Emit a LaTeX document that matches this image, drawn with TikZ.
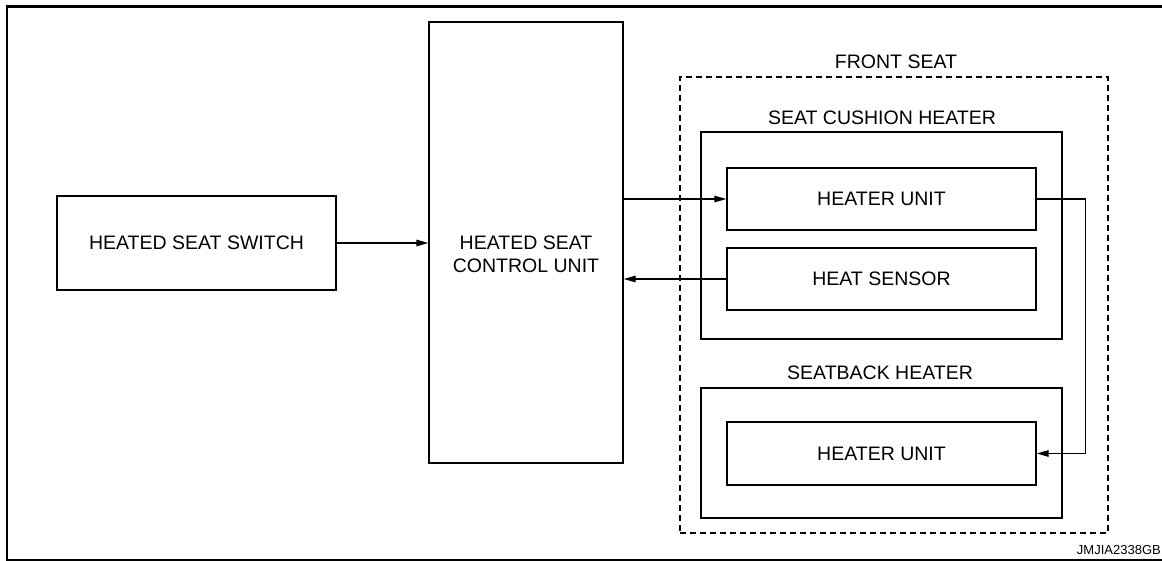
\documentclass[tikz,border=0pt]{standalone}
\usepackage{fontspec}
\setmainfont{Liberation Sans}
\usetikzlibrary{arrows.meta}
\begin{document}
\begin{tikzpicture}[x=1pt,y=-1pt,
  box/.style={draw, line width=1.3pt, inner sep=0pt, align=center, font=\fontsize{19.5}{24}\selectfont},
  lbl/.style={inner sep=0pt, align=center, font=\fontsize{19.5}{23}\selectfont},
  conn/.style={line width=1.3pt},
  arr/.style={conn, -{Triangle[length=12pt,width=6.5pt]}}]
\useasboundingbox (0,0) rectangle (1162,561);
% frame
\draw[line width=3pt] (5.7,6.5) -- (1162,6.5);
\draw[line width=2.6pt] (7,5) -- (7,560);
\draw[line width=1.3pt] (5.7,560) -- (1162,560);
% boxes
\node[box, minimum width=279pt, minimum height=94pt] (sw) at (196.5,243) {HEATED SEAT SWITCH};
\node[box, minimum width=194pt, minimum height=441pt] (cu) at (526,242.5) {};
\node[lbl] (cut) at (526,254) {HEATED SEAT\\CONTROL UNIT};
\node[draw, dashed, dash pattern=on 6pt off 4pt, line width=1.3pt, minimum width=428pt, minimum height=456pt, inner sep=0pt] (fs) at (894,305) {};
\node[box, minimum width=361pt, minimum height=207pt] (sch) at (881.5,235.5) {};
\node[box, minimum width=309pt, minimum height=62pt] (hu1) at (881.5,199) {HEATER UNIT};
\node[box, minimum width=309pt, minimum height=62pt] (hs) at (881.5,279) {HEAT SENSOR};
\node[box, minimum width=361pt, minimum height=130pt] (sbh) at (881.5,453) {};
\node[box, minimum width=309pt, minimum height=63pt] (hu2) at (881.5,453.5) {HEATER UNIT};
% labels
\node[lbl] (lfs) at (896,62) {FRONT SEAT};
\node[lbl] (lsch) at (882,117.5) {SEAT CUSHION HEATER};
\node[lbl] (lsbh) at (880,373) {SEATBACK HEATER};
\node[inner sep=0pt, anchor=east, font=\fontsize{13}{15}\selectfont] (code) at (1161,550) {JMJIA2338GB};
% connectors
\draw[arr] (sw.east) -- (sw.east -| cu.west);
\draw[arr] (cu.east |- hu1.west) -- (hu1.west);
\draw[arr] (hs.west) -- (hs.west -| cu.east);
\draw[arr] (hu1.east) -- ++(49,0) |- (hu2.east);
\end{tikzpicture}
\end{document}
